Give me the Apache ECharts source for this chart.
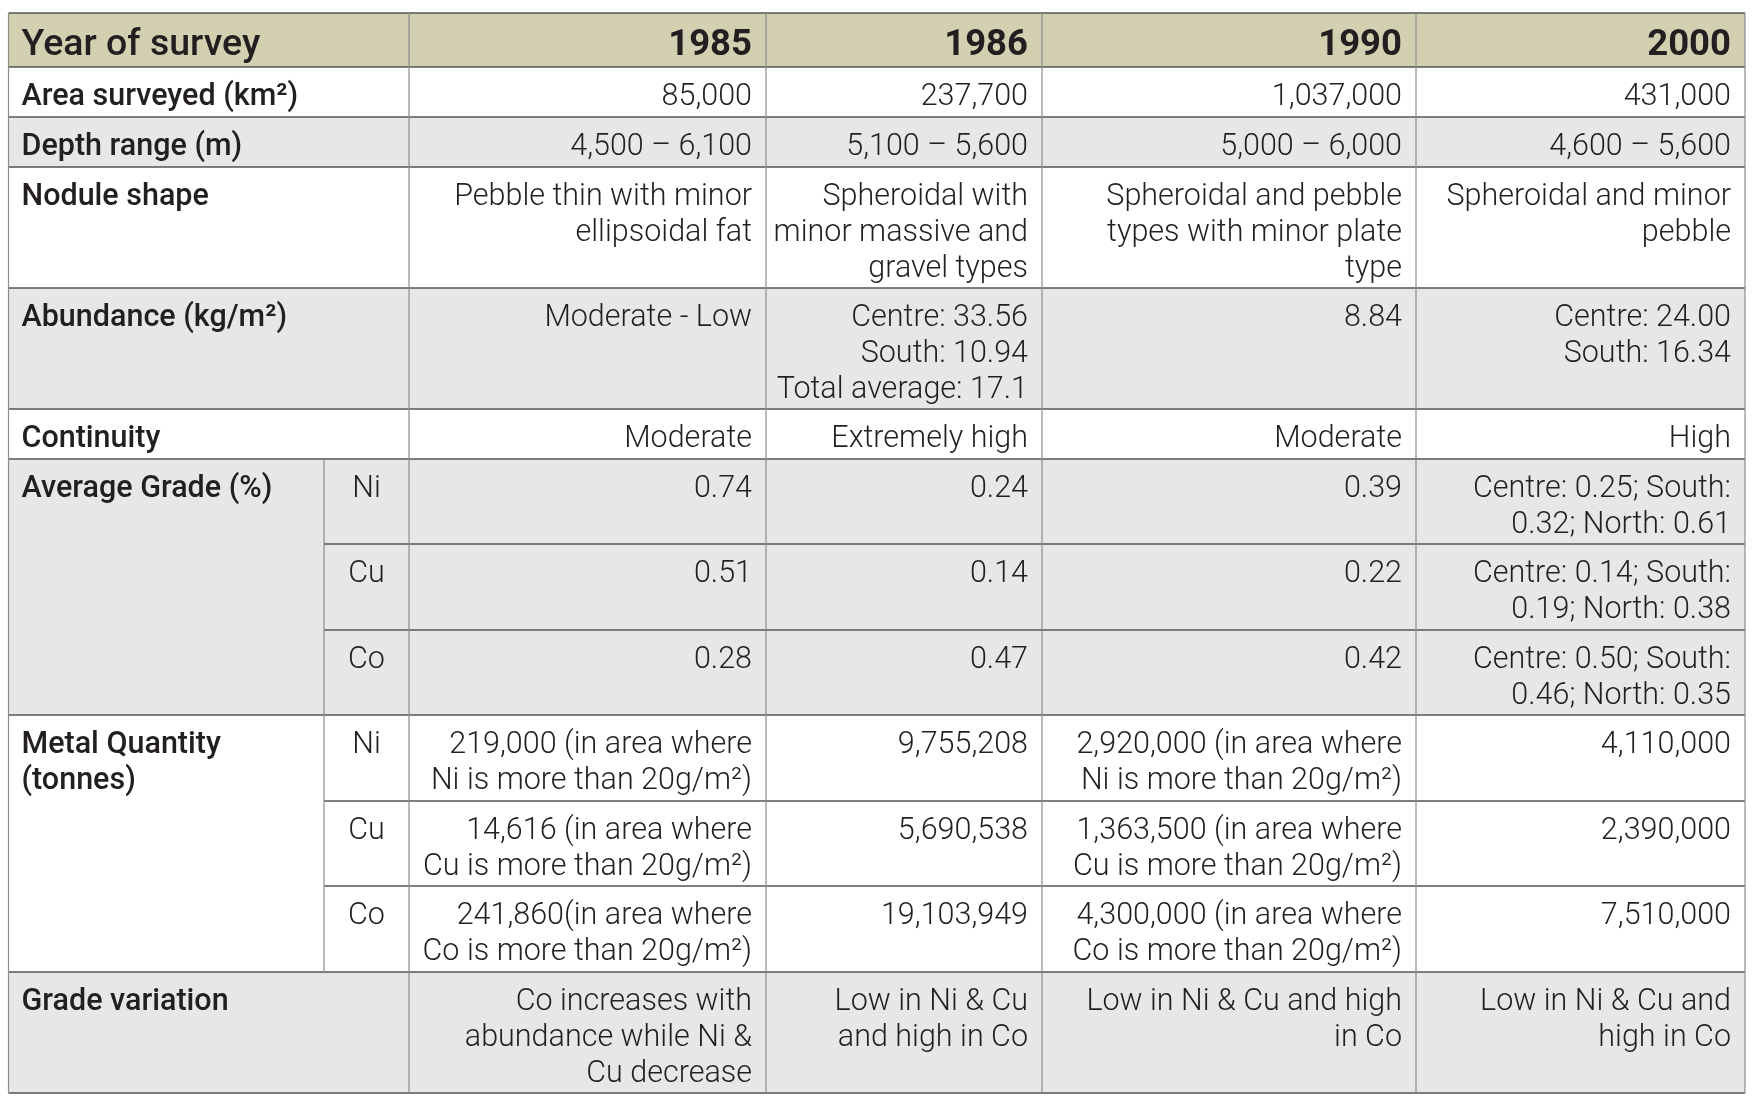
<!DOCTYPE html>
<html>
<head>
<meta charset="utf-8">
<script src="https://cdn.jsdelivr.net/npm/echarts@6/dist/echarts.min.js"></script>
<style>
html,body{margin:0;padding:0;background:#fff;}
#chart{width:1756px;height:1104px;}
</style>
</head>
<body>
<div id="chart"></div>
<script>
// ---------- DATA ----------
const headerLabel = 'Year of survey';
const years = ['1985', '1986', '1990', '2000'];
const rowLabels = ['Area surveyed (km²)', 'Depth range (m)', 'Nodule shape', 'Abundance (kg/m²)',
  'Continuity', 'Average Grade (%)', 'Metal Quantity\n(tonnes)', 'Grade variation'];
const subLabels = ['Ni', 'Cu', 'Co'];
const values1985 = ['85,000', '4,500 – 6,100', 'Pebble thin with minor\nellipsoidal fat', 'Moderate - Low', 'Moderate',
  '0.74', '0.51', '0.28',
  '219,000 (in area where\nNi is more than 20g/m²)', '14,616 (in area where\nCu is more than 20g/m²)', '241,860(in area where\nCo is more than 20g/m²)',
  'Co increases with\nabundance while Ni &\nCu decrease'];
const values1986 = ['237,700', '5,100 – 5,600', 'Spheroidal with\nminor massive and\ngravel types', 'Centre: 33.56\nSouth: 10.94\nTotal average: 17.1', 'Extremely high',
  '0.24', '0.14', '0.47',
  '9,755,208', '5,690,538', '19,103,949',
  'Low in Ni & Cu\nand high in Co'];
const values1990 = ['1,037,000', '5,000 – 6,000', 'Spheroidal and pebble\ntypes with minor plate\ntype', '8.84', 'Moderate',
  '0.39', '0.22', '0.42',
  '2,920,000 (in area where\nNi is more than 20g/m²)', '1,363,500 (in area where\nCu is more than 20g/m²)', '4,300,000 (in area where\nCo is more than 20g/m²)',
  'Low in Ni & Cu and high\nin Co'];
const values2000 = ['431,000', '4,600 – 5,600', 'Spheroidal and minor\npebble', 'Centre: 24.00\nSouth: 16.34', 'High',
  'Centre: 0.25; South:\n0.32; North: 0.61', 'Centre: 0.14; South:\n0.19; North: 0.38', 'Centre: 0.50; South:\n0.46; North: 0.35',
  '4,110,000', '2,390,000', '7,510,000',
  'Low in Ni & Cu and\nhigh in Co'];

// ---------- LAYOUT ----------
const rowEdges = [13, 67, 117, 167, 288, 409, 459, 544, 630, 715, 801, 886, 972, 1093];
const colEdges = [8.5, 324, 409, 766, 1042, 1416, 1745];
const grayRows = [2, 4, 6, 7, 8, 12];
const C = {
  head: '#d3cfb1', gray: '#e6e7e8', white: '#ffffff',
  text: '#231f20', hLine: '#555555', vLine: '#8c8c8c'
};
const FONT = 'Roboto, "Liberation Sans", Arial, sans-serif';

// ---------- BUILD ----------
const yearValues = [values1985, values1986, values1990, values2000];
const fills = [];
for (let r = 0; r < rowEdges.length - 1; r++) {
  const color = r === 0 ? C.head : (grayRows.indexOf(r) >= 0 ? C.gray : C.white);
  fills.push([colEdges[0], colEdges[colEdges.length - 1], rowEdges[r], rowEdges[r + 1], color]);
}
// cells: [x0, x1, y0, y1, text, align, kind]
const cells = [];
cells.push([colEdges[0], colEdges[2], rowEdges[0], rowEdges[1], headerLabel, 'left', 'head']);
years.forEach((y, i) => cells.push([colEdges[i + 2], colEdges[i + 3], rowEdges[0], rowEdges[1], y, 'right', 'head']));
const labelRows = [[1, 2], [2, 3], [3, 4], [4, 5], [5, 6], [6, 9], [9, 12], [12, 13]];
rowLabels.forEach((t, i) => {
  const [a, b] = labelRows[i];
  const span = (i === 5 || i === 6) ? 1 : 2;
  cells.push([colEdges[0], colEdges[span], rowEdges[a], rowEdges[b], t, 'left', 'label']);
});
for (let k = 0; k < 6; k++) {
  cells.push([colEdges[1], colEdges[2], rowEdges[6 + k], rowEdges[7 + k], subLabels[k % 3], 'center', 'sub']);
}
yearValues.forEach((vals, c) => {
  vals.forEach((t, j) => {
    const r = j + 1;
    cells.push([colEdges[c + 2], colEdges[c + 3], rowEdges[r], rowEdges[r + 1], t, 'right', 'value']);
  });
});
const lines = [];
rowEdges.forEach((y, i) => {
  const inner = (i === 7 || i === 8 || i === 10 || i === 11);
  lines.push([inner ? colEdges[1] : colEdges[0], y, colEdges[colEdges.length - 1], y, 'h']);
});
colEdges.forEach((x, i) => {
  if (i === 1) lines.push([x, rowEdges[6], x, rowEdges[12], 'v']);
  else lines.push([x, rowEdges[0], x, rowEdges[rowEdges.length - 1], 'v']);
});

const chart = echarts.init(document.getElementById('chart'), null, { renderer: 'canvas' });
chart.setOption({
  animation: false,
  backgroundColor: '#ffffff',
  grid: { left: 0, top: 0, width: 1756, height: 1104 },
  xAxis: { type: 'value', min: 0, max: 1756, show: false },
  yAxis: { type: 'value', min: 0, max: 1104, inverse: true, show: false },
  series: [
    {
      type: 'custom', coordinateSystem: 'cartesian2d', silent: true, z: 1,
      data: fills,
      renderItem: function (params, api) {
        const p0 = api.coord([api.value(0), api.value(2)]);
        const p1 = api.coord([api.value(1), api.value(3)]);
        return { type: 'rect', shape: { x: p0[0], y: p0[1], width: p1[0] - p0[0], height: p1[1] - p0[1] },
          style: { fill: fills[params.dataIndex][4] } };
      }
    },
    {
      type: 'custom', coordinateSystem: 'cartesian2d', silent: true, z: 2,
      data: lines,
      renderItem: function (params, api) {
        const l = lines[params.dataIndex];
        const p0 = api.coord([l[0], l[1]]);
        const p1 = api.coord([l[2], l[3]]);
        const h = l[4] === 'h';
        return { type: 'line', shape: { x1: p0[0], y1: p0[1], x2: p1[0], y2: p1[1] },
          style: { stroke: h ? C.hLine : C.vLine, lineWidth: h ? 1.6 : 1.2 } };
      }
    },
    {
      type: 'custom', coordinateSystem: 'cartesian2d', silent: true, z: 3,
      data: cells.map(c => [c[0], c[1], c[2], c[3]]),
      renderItem: function (params, api) {
        const c = cells[params.dataIndex];
        const p0 = api.coord([c[0], c[2]]);
        const p1 = api.coord([c[1], c[3]]);
        const kind = c[6];
        let x;
        if (c[5] === 'left') x = p0[0] + 13;
        else if (c[5] === 'right') x = p1[0] - 14;
        else x = (p0[0] + p1[0]) / 2;
        let fontSize = 30.5, fontWeight = 300, y, va = 'top';
        if (kind === 'head') {
          fontSize = c[5] === 'left' ? 37.5 : 36.5; fontWeight = c[5] === 'left' ? 500 : 700;
          y = (p0[1] + p1[1]) / 2 + 6; va = 'middle';
        } else {
          y = p0[1] + 12;
          if (kind === 'label') { fontWeight = 500; fontSize = 30.5; }
        }
        return { type: 'text', style: {
          text: c[4], x: x, y: y, align: c[5], verticalAlign: va,
          fontSize: fontSize, fontWeight: fontWeight, fontFamily: FONT,
          lineHeight: 36, fill: C.text } };
      }
    }
  ]
});
</script>
</body>
</html>
